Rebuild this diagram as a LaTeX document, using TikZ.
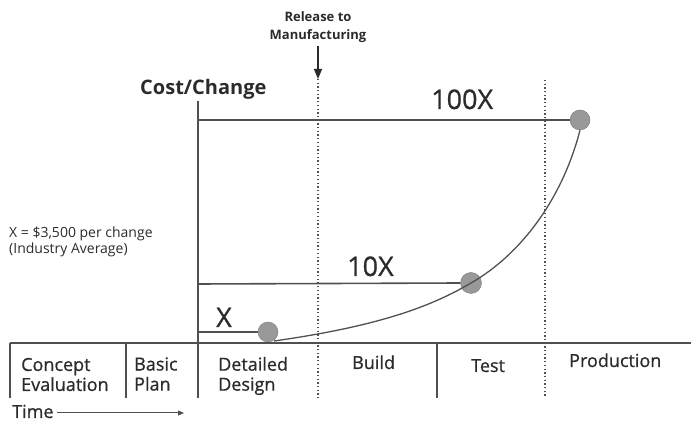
\documentclass[tikz,border=0pt]{standalone}
\usepackage{fontspec}
\setmainfont{Open Sans}
\newfontfamily\semi[FakeBold=0.8]{Open Sans}
\usetikzlibrary{arrows.meta}
\definecolor{ink}{HTML}{2B2B2B}
\definecolor{ln}{HTML}{505050}
\definecolor{dot}{HTML}{999999}
\begin{document}
\begin{tikzpicture}[x=1pt,y=-1pt,
  lbl/.style={text=ink,inner sep=0pt,font=\semi\fontsize{18}{20}\selectfont,align=left},
  big/.style={text=ink,inner sep=0pt,font=\semi\fontsize{27}{30}\selectfont},
  small/.style={text=ink,inner sep=0pt,font=\fontsize{13}{18}\selectfont\bfseries,align=center},
  solidln/.style={draw=ln,line width=1.6pt},
  dotln/.style={draw=ln,line width=1.5pt,dash pattern=on 1.3pt off 2.4pt},
  ball/.style={circle,fill=dot,draw=dot!80!black,line width=0.4pt,inner sep=0pt}]
\useasboundingbox (0,0) rectangle (691,427);
% coordinates
\coordinate (axtop) at (198,101);
\coordinate (axbot) at (198,398);
\coordinate (tl) at (10,343);
\coordinate (tr) at (691,343);
\coordinate (l0b) at (10,398);
\coordinate (l1t) at (126,343);
\coordinate (l1b) at (126,398);
\coordinate (l3t) at (437,343);
\coordinate (l3b) at (437,398);
\coordinate (relstart) at (318,46);
\coordinate (reltip) at (318,79);
\coordinate (d1b) at (318,398);
\coordinate (d2t) at (545,80);
\coordinate (d2b) at (545,398);
\coordinate (h100) at (198,120);
\coordinate (h10) at (198,284);
\coordinate (h1) at (198,332);
\coordinate (cstart) at (274,341);
\coordinate (ts) at (57,413);
\coordinate (te) at (184,413);
% balls
\node[ball,minimum size=20pt] (b100) at (580,120) {};
\node[ball,minimum size=21pt] (b10) at (471,283) {};
\node[ball,minimum size=20pt] (b1) at (268,332) {};
% axis and table
\draw[solidln] (axtop) -- (axbot);
\draw[solidln] (tl) -- (tr);
\draw[solidln] (tl) -- (l0b);
\draw[solidln] (l1t) -- (l1b);
\draw[solidln] (l3t) -- (l3b);
\draw[dotln] (reltip) -- (d1b);
\draw[dotln] (d2t) -- (d2b);
\draw[draw=ink,line width=1.3pt,-{Triangle[length=10pt,width=8pt]}] (relstart) -- (reltip);
% level lines
\draw[solidln] (h100) -- (b100.west);
\draw[solidln] (h10) -- (b10.west);
\draw[solidln] (h1) -- (b1.west);
% curve
\draw[draw=ln,line width=1.3pt] (cstart) .. controls (380,326) and (432,306) .. (b10.center)
  .. controls (520,255) and (562,200) .. (b100.south);
% time arrow
\draw[draw=ln,line width=1pt,-{Triangle[length=6pt,width=5pt]}] (ts) -- (te);
% texts
\node[small] (rel) at (318,27.5) {Release to\\Manufacturing};
\node[text=ink,inner sep=0pt,font=\fontsize{20}{22}\selectfont\bfseries,anchor=base west] (cost) at (140,95) {Cost/Change};
\node[big,anchor=base west] (t100) at (431,109) {100X};
\node[big,anchor=base west] (t10) at (347,276) {10X};
\node[big,anchor=base west] (t1) at (216,327) {X};
\node[text=ink,inner sep=0pt,font=\fontsize{14}{16}\selectfont,align=left,anchor=west] (xeq) at (9,242) {X = \$3,500 per change\\(Industry Average)};
\node[lbl,anchor=west] (c1) at (21,374.5) {Concept\\Evaluation};
\node[lbl,anchor=west] (c2) at (134,374) {Basic\\Plan};
\node[lbl,anchor=west] (c3) at (218,376) {Detailed\\Design};
\node[lbl,anchor=base west] (c4) at (352,369) {Build};
\node[lbl,anchor=base west] (c5) at (471,372) {Test};
\node[lbl,anchor=base west] (c6) at (569,367) {Production};
\node[lbl,anchor=base west] (time) at (12,418) {Time};
\end{tikzpicture}
\end{document}
